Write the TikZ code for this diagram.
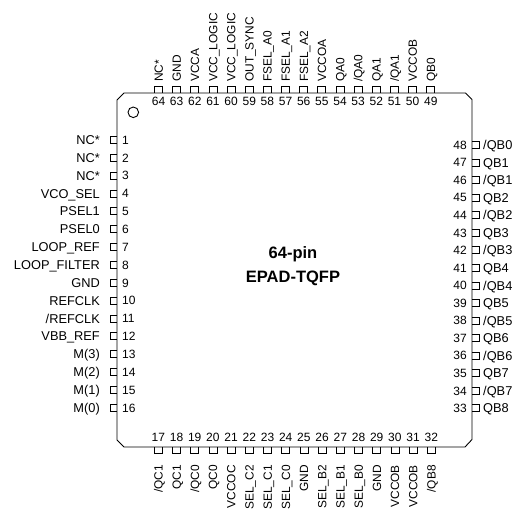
\documentclass[tikz,border=0pt]{standalone}
\usepackage{fontspec}
\setmainfont{Liberation Sans}
\begin{document}
\begin{tikzpicture}[x=1pt,y=-1pt,
  outline/.style={line width=0.9pt,black},
  pinbox/.style={line width=0.8pt,black},
  pinlabel/.style={inner sep=0pt,font=\fontsize{12.8}{14}\selectfont},
  pinnum/.style={inner sep=0pt,font=\fontsize{12}{14}\selectfont},
  vlabel/.style={inner sep=0pt,rotate=90,font=\fontsize{11.9}{14}\selectfont},
  title/.style={inner sep=0pt,align=center,font=\fontsize{16.5}{23.5}\selectfont\bfseries}]
\useasboundingbox (0,0) rectangle (521,510);
% body
\draw[outline] (124,93) -- (465.5,93) -- (472,99.5) -- (472,439.5) -- (465,447)
  -- (124,447) -- (117,440) -- (117,100) -- cycle;
\draw[outline] (133.3,112.3) circle (5.3);
\node[title] (title) at (293,266) {64-pin\\EPAD-TQFP};
% left pins 1..16
\foreach \lab [count=\i from 0] in {NC*,NC*,NC*,VCO\_SEL,PSEL1,PSEL0,LOOP\_REF,LOOP\_FILTER,GND,REFCLK,/REFCLK,VBB\_REF,M(3),M(2),M(1),M(0)}{
  \pgfmathsetmacro{\yy}{140+\i*17.85}
  \pgfmathtruncatemacro{\n}{\i+1}
  \draw[pinbox] (117,\yy-3.5) -- (110,\yy-3.5) -- (110,\yy+3.5) -- (117,\yy+3.5);
  \node[pinlabel,anchor=base east] (L\n) at (100,\yy+4.6) {\lab};
  \node[pinnum,anchor=base west] (N\n) at (122,\yy+4.3) {\n};
}
% right pins 48..33
\foreach \lab [count=\i from 0] in {/QB0,QB1,/QB1,QB2,/QB2,QB3,/QB3,QB4,/QB4,QB5,/QB5,QB6,/QB6,QB7,/QB7,QB8}{
  \pgfmathsetmacro{\yy}{145+\i*17.55}
  \pgfmathtruncatemacro{\n}{48-\i}
  \draw[pinbox] (472,\yy-3.5) -- (479,\yy-3.5) -- (479,\yy+3.5) -- (472,\yy+3.5);
  \node[pinlabel,anchor=base west] (L\n) at (483,\yy+4.6) {\lab};
  \node[pinnum,anchor=base east] (N\n) at (467,\yy+4.3) {\n};
}
% top pins 64..49
\foreach \lab [count=\i from 0] in {NC*,GND,VCCA,VCC\_LOGIC,VCC\_LOGIC,OUT\_SYNC,FSEL\_A0,FSEL\_A1,FSEL\_A2,VCCOA,QA0,/QA0,QA1,/QA1,VCCOB,QB0}{
  \pgfmathsetmacro{\xx}{158.5+\i*18.15}
  \pgfmathtruncatemacro{\n}{64-\i}
  \draw[pinbox] (\xx-4,93) -- (\xx-4,86) -- (\xx+4,86) -- (\xx+4,93);
  \node[vlabel,anchor=base west] (L\n) at (\xx+4.3,82) {\lab};
  \node[pinnum,anchor=base] (N\n) at (\xx,105.8) {\n};
}
% bottom pins 17..32
\foreach \lab [count=\i from 0] in {/QC1,QC1,/QC0,QC0,VCCOC,SEL\_C2,SEL\_C1,SEL\_C0,GND,SEL\_B2,SEL\_B1,SEL\_B0,GND,VCCOB,VCCOB,/QB8}{
  \pgfmathsetmacro{\xx}{158.3+\i*18.2}
  \pgfmathtruncatemacro{\n}{17+\i}
  \draw[pinbox] (\xx-4,447) -- (\xx-4,453) -- (\xx+4,453) -- (\xx+4,447);
  \node[vlabel,anchor=base east] (L\n) at (\xx+4.3,465) {\lab};
  \node[pinnum,anchor=base] (N\n) at (\xx,441.5) {\n};
}
\end{tikzpicture}
\end{document}
